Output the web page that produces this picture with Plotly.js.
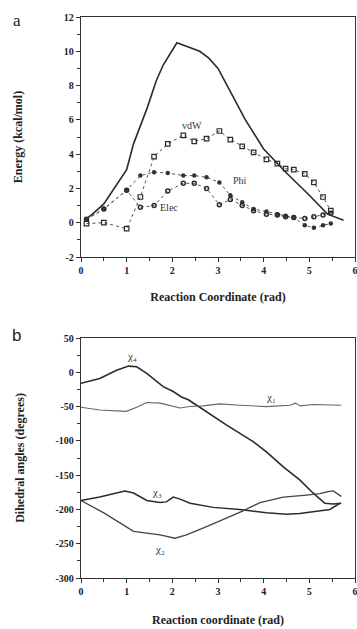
<!DOCTYPE html>
<html>
<head>
<meta charset="utf-8">
<script src="https://cdn.plot.ly/plotly-3.0.1.min.js"></script>
<style>html,body{margin:0;padding:0;background:#fff;}#chart{width:357px;height:629px;}</style>
</head>
<body>
<div id="chart"></div>
<script>
// ---- Panel a: energy profile ----
const totalX = [0.1, 0.25, 0.5, 0.75, 1.0, 1.15, 1.25, 1.45, 1.65, 1.8, 2.1, 2.35, 2.6, 2.8, 3.0, 3.3, 3.6, 4.0, 4.5, 5.0, 5.4, 5.75];
const totalY = [0.2, 0.5, 1.1, 2.1, 3.1, 4.6, 5.3, 6.7, 8.3, 9.2, 10.5, 10.25, 10.0, 9.6, 9.0, 7.5, 6.0, 4.3, 2.9, 1.6, 0.5, 0.15];

const compX = [0.12, 0.5, 1.0, 1.3, 1.6, 1.9, 2.24, 2.48, 2.75, 3.03, 3.27, 3.53, 3.78, 4.06, 4.3, 4.48, 4.66, 4.9, 5.1, 5.3, 5.47];
const vdwY  = [-0.05, 0.0, -0.35, 1.5, 3.85, 4.6, 5.1, 4.75, 4.9, 5.35, 4.85, 4.45, 4.1, 3.7, 3.45, 3.15, 3.1, 2.85, 2.35, 1.5, 0.7];
const phiY  = [0.2, 0.8, 1.9, 2.75, 2.95, 2.9, 2.75, 2.75, 2.65, 2.35, 1.6, 1.2, 0.8, 0.65, 0.5, 0.4, 0.3, -0.15, -0.3, -0.15, -0.05];
const elecY = [0.2, 0.8, 1.9, 0.9, 1.0, 1.85, 2.3, 2.3, 2.0, 1.05, 1.35, 1.0, 0.7, 0.5, 0.45, 0.35, 0.3, 0.25, 0.35, 0.45, 0.55];

const energyTicks = [-2, 0, 2, 4, 6, 8, 10, 12];
const coordTicks = [0, 1, 2, 3, 4, 5, 6];

// ---- Panel b: dihedral angles ----
const chi4X = [0.0, 0.41, 0.78, 1.04, 1.22, 1.44, 1.8, 2.02, 2.2, 2.35, 2.6, 3.19, 3.77, 4.06, 4.43, 4.79, 5.08, 5.34, 5.52, 5.7];
const chi4Y = [-16, -9, 3, 9, 8, -1.5, -21, -28, -36, -40, -51, -77, -101, -116, -138, -157, -176, -191, -192, -191];

const chi1X = [0.0, 0.41, 0.99, 1.22, 1.44, 1.73, 2.17, 2.38, 2.68, 3.04, 3.48, 4.06, 4.57, 4.7, 4.8, 5.08, 5.7];
const chi1Y = [-51, -55, -57, -51, -44, -45, -52, -50, -49, -46, -48, -50, -48, -45, -49, -47, -48];

const chi3X = [0.0, 0.41, 0.96, 1.15, 1.44, 1.73, 1.87, 2.02, 2.17, 2.39, 2.89, 3.48, 4.06, 4.5, 4.79, 5.23, 5.45, 5.67];
const chi3Y = [-187, -182, -173, -176, -187, -190, -189, -182, -185, -191, -197, -200, -205, -207, -206, -202, -200, -191];

const chi2X = [0.0, 0.5, 1.15, 1.73, 2.06, 2.31, 2.75, 3.19, 3.55, 3.92, 4.43, 4.94, 5.23, 5.41, 5.52, 5.7];
const chi2Y = [-187, -205, -232, -237, -242, -237, -225, -213, -202, -190, -182, -179, -177, -174, -173, -181];

const angleTicks = [-300, -250, -200, -150, -100, -50, 0, 50];

const serif = "Liberation Serif";
const dark = "#2b2b2b";

const traces = [
  {x: totalX, y: totalY, mode: "lines", line: {color: dark, width: 1.6}, xaxis: "x", yaxis: "y", name: "Total"},
  {x: compX, y: vdwY, mode: "lines+markers", line: {color: "#555", width: 1, dash: "dot"},
   marker: {symbol: "square-open", size: 4.5, color: dark, line: {width: 1.2, color: dark}}, xaxis: "x", yaxis: "y", name: "vdW"},
  {x: compX, y: phiY, mode: "lines+markers", line: {color: "#555", width: 1, dash: "dot"},
   marker: {symbol: "circle", size: 4.5, color: "#333"}, xaxis: "x", yaxis: "y", name: "Phi"},
  {x: compX, y: elecY, mode: "lines+markers", line: {color: "#555", width: 1, dash: "dot"},
   marker: {symbol: "circle-open", size: 4, color: dark, line: {width: 1.5, color: dark}}, xaxis: "x", yaxis: "y", name: "Elec"},
  {x: chi4X, y: chi4Y, mode: "lines", line: {color: dark, width: 1.6}, xaxis: "x2", yaxis: "y2", name: "χ4"},
  {x: chi1X, y: chi1Y, mode: "lines", line: {color: "#666", width: 1.1}, xaxis: "x2", yaxis: "y2", name: "χ1"},
  {x: chi3X, y: chi3Y, mode: "lines", line: {color: dark, width: 1.5}, xaxis: "x2", yaxis: "y2", name: "χ3"},
  {x: chi2X, y: chi2Y, mode: "lines", line: {color: "#444", width: 1.3}, xaxis: "x2", yaxis: "y2", name: "χ2"}
];

const tickFont = {family: serif, size: 10, color: "#222", weight: "bold"};
const titleFont = {family: serif, size: 12, color: "#222", weight: "bold"};
const axBase = {
  showline: true, mirror: true, linecolor: "#333", linewidth: 1.2,
  ticks: "outside", ticklen: 4, tickwidth: 1, tickcolor: "#333",
  showgrid: false, zeroline: false, tickfont: tickFont, ticklabeloverflow: "allow",
  minor: {ticks: "outside", ticklen: 2.5, tickwidth: 1, tickcolor: "#333", showgrid: false}
};

const layout = {
  width: 357, height: 629,
  margin: {l: 81, r: 2, t: 17, b: 51},
  paper_bgcolor: "#fff", plot_bgcolor: "#fff",
  showlegend: false,
  xaxis: Object.assign({}, axBase, {domain: [0, 1], anchor: "y", range: [0, 6], tickvals: coordTicks, ticktext: coordTicks.map(String),
    minor: Object.assign({}, axBase.minor, {dtick: 0.5, tick0: 0}),
    title: {text: "Reaction Coordinate (rad)", font: titleFont, standoff: 17}}),
  yaxis: Object.assign({}, axBase, {domain: [0.5722, 1], anchor: "x", range: [-2, 12], tickvals: energyTicks, ticktext: energyTicks.map(String),
    minor: Object.assign({}, axBase.minor, {dtick: 1, tick0: 0}),
    title: {text: "Energy (kcal/mol)", font: titleFont, standoff: 38}}),
  xaxis2: Object.assign({}, axBase, {domain: [0, 1], anchor: "y2", range: [0, 6], tickvals: coordTicks, ticktext: coordTicks.map(String),
    minor: Object.assign({}, axBase.minor, {dtick: 0.5, tick0: 0}),
    title: {text: "Reaction coordinate (rad)", font: titleFont, standoff: 19}}),
  yaxis2: Object.assign({}, axBase, {domain: [0, 0.4278], anchor: "x2", range: [-300, 50], tickvals: angleTicks, ticktext: angleTicks.map(String),
    minor: Object.assign({}, axBase.minor, {dtick: 25, tick0: 0}),
    title: {text: "Dihedral angles (degrees)", font: titleFont, standoff: 28}}),
  annotations: [
    {text: "a", xref: "paper", yref: "paper", x: -0.235, y: 1.0, xanchor: "center", yanchor: "middle", showarrow: false,
     font: {family: serif, size: 17, color: "#222"}, yshift: -3},
    {text: "b", xref: "paper", yref: "paper", x: -0.235, y: 0.4278, xanchor: "center", yanchor: "middle", showarrow: false,
     font: {family: "Liberation Sans", size: 17, color: "#222"}, yshift: 3},
    {text: "vdW", xref: "x", yref: "y", x: 2.42, y: 5.7, showarrow: false, font: {family: serif, size: 10, color: "#333"}},
    {text: "Phi", xref: "x", yref: "y", x: 3.48, y: 2.45, showarrow: false, font: {family: serif, size: 10, color: "#333"}},
    {text: "Elec", xref: "x", yref: "y", x: 1.93, y: 0.86, showarrow: false, font: {family: serif, size: 10, color: "#333"}},
    {text: "χ₄", xref: "x2", yref: "y2", x: 1.11, y: 24, showarrow: false, font: {family: serif, size: 11, color: "#333"}},
    {text: "χ₁", xref: "x2", yref: "y2", x: 4.17, y: -36, showarrow: false, font: {family: serif, size: 11, color: "#333"}},
    {text: "χ₃", xref: "x2", yref: "y2", x: 1.66, y: -175, showarrow: false, font: {family: serif, size: 11, color: "#333"}},
    {text: "χ₂", xref: "x2", yref: "y2", x: 1.73, y: -258, showarrow: false, font: {family: serif, size: 11, color: "#333"}}
  ]
};

Plotly.newPlot("chart", traces, layout, {displayModeBar: false, staticPlot: true});
</script>
</body>
</html>
